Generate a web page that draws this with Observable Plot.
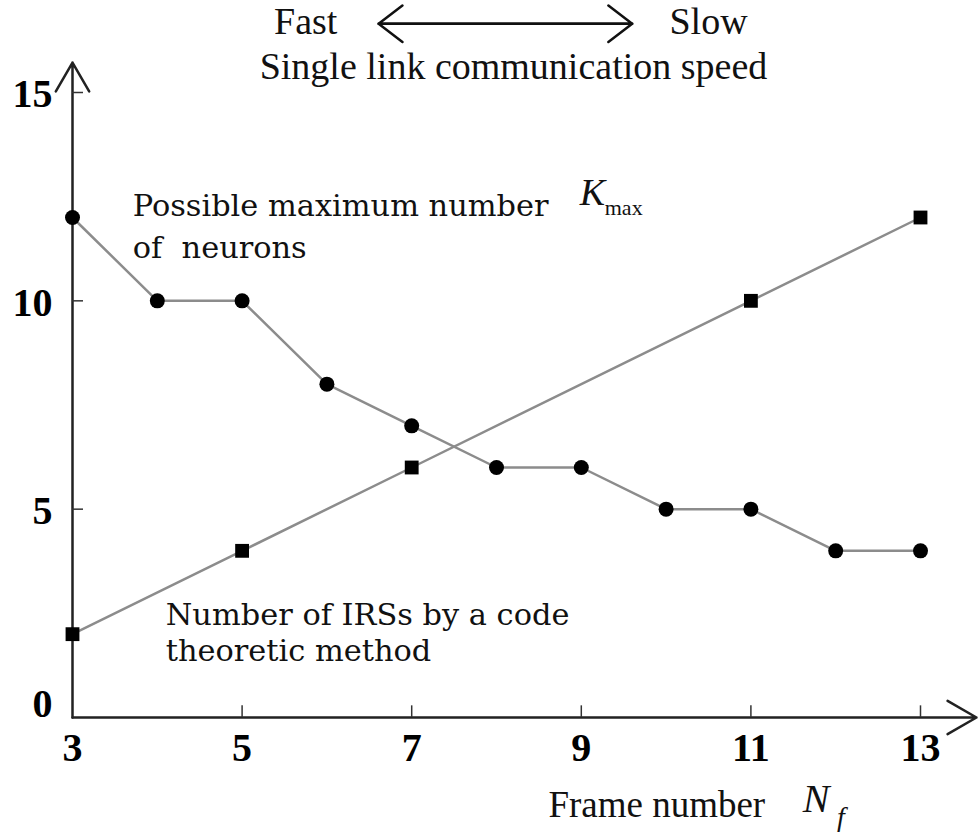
<!DOCTYPE html>
<html>
<head>
<meta charset="utf-8">
<script src="https://cdn.jsdelivr.net/npm/d3@7"></script>
<script src="https://cdn.jsdelivr.net/npm/@observablehq/plot@0.6"></script>
<style>
  body { margin: 0; background: #fff; }
  svg { display: block; }
</style>
</head>
<body>
<div id="chart"></div>
<script>
// Data
const frames = [3, 4, 5, 6, 7, 8, 9, 10, 11, 12, 13];
const maxNeurons = [12, 10, 10, 8, 7, 6, 6, 5, 5, 4, 4];
const irsFrames = [3, 5, 7, 11, 13];
const irsCounts = [2, 4, 6, 10, 12];
const xTicks = [3, 5, 7, 9, 11, 13];
const yTicks = [0, 5, 10, 15];

// annotation texts (data-space anchors)
const seriesLabels = [
  {x: 3.71, y: 12.27, text: "Possible maximum number"},
  {x: 3.71, y: 11.27, text: "of  neurons"},
  {x: 4.10, y: 2.45, text: "Number of IRSs by a code"},
  {x: 4.10, y: 1.60, text: "theoretic method"}
];
const headerLabels = [
  {x: 5.75, y: 16.70, text: "Fast"},
  {x: 10.50, y: 16.70, text: "Slow"},
  {x: 8.20, y: 15.61, text: "Single link communication speed"}
];

const neurons = frames.map((f, i) => ({x: f, y: maxNeurons[i]}));
const irs = irsFrames.map((f, i) => ({x: f, y: irsCounts[i]}));

const serif = "'Liberation Serif', 'Times New Roman', serif";
const wide = "'DejaVu Serif', serif";

const chart = Plot.plot({
  width: 979,
  height: 832,
  marginLeft: 72,
  marginRight: 59,
  marginTop: 92,
  marginBottom: 115,
  x: {type: "linear", domain: [3, 13], axis: null},
  y: {type: "linear", domain: [0, 15], axis: null},
  style: {fontFamily: serif, background: "#fff", overflow: "visible"},
  marks: [
    // axes with arrow heads
    Plot.arrow([{x1: 3, y1: 0, x2: 13.66, y2: 0}], {x1: "x1", y1: "y1", x2: "x2", y2: "y2", stroke: "#222", strokeWidth: 2.5, headLength: 20, headAngle: 60}),
    Plot.arrow([{x1: 3, y1: 0, x2: 3, y2: 15.72}], {x1: "x1", y1: "y1", x2: "x2", y2: "y2", stroke: "#222", strokeWidth: 2.5, headLength: 20, headAngle: 60}),
    // inward ticks
    Plot.ruleX(xTicks.filter(d => d !== 3), {x: d => d, y1: 0, y2: 0.28, stroke: "#333", strokeWidth: 1.5}),
    Plot.ruleY(yTicks.filter(d => d !== 0), {y: d => d, x1: 3, x2: 3.13, stroke: "#333", strokeWidth: 1.5}),
    // tick labels
    Plot.text(xTicks, {x: d => d, y: 0, dy: 31, text: d => String(d), fontSize: 40, fontWeight: "bold", fontFamily: serif, fill: "#000"}),
    Plot.text(yTicks.filter(d => d !== 0), {x: 3, y: d => d, dx: -20, dy: 2, textAnchor: "end", text: d => String(d), fontSize: 40, fontWeight: "bold", fontFamily: serif, fill: "#000"}),
    Plot.text(yTicks.filter(d => d === 0), {x: 3, y: d => d, dx: -20, dy: -13, textAnchor: "end", text: d => String(d), fontSize: 40, fontWeight: "bold", fontFamily: serif, fill: "#000"}),
    // series lines
    Plot.line(neurons, {x: "x", y: "y", stroke: "#8c8c8c", strokeWidth: 2.5}),
    Plot.line(irs, {x: "x", y: "y", stroke: "#8c8c8c", strokeWidth: 2.5}),
    Plot.dot(neurons, {x: "x", y: "y", r: 7.5, fill: "#000", stroke: "none"}),
    Plot.dot(irs, {x: "x", y: "y", r: 7.8, symbol: "square", fill: "#000", stroke: "none"}),
    // series labels
    Plot.text(seriesLabels, {x: "x", y: "y", text: "text", textAnchor: "start", fontSize: 30.4, fontFamily: wide, fill: "#111"}),
    Plot.text([{x: 9.13, y: 12.6}], {x: "x", y: "y", text: () => "K", fontSize: 38, fontStyle: "italic", fontFamily: serif, fill: "#111"}),
    Plot.text([{x: 9.50, y: 12.22}], {x: "x", y: "y", text: () => "max", fontSize: 22, fontFamily: serif, fill: "#111"}),
    // header
    Plot.text(headerLabels, {x: "x", y: "y", text: "text", fontSize: 38, fontFamily: serif, fill: "#111"}),
    Plot.arrow([{x1: 6.61, x2: 9.60, y: 16.65}], {x1: "x1", x2: "x2", y1: "y", y2: "y", stroke: "#111", strokeWidth: 2.5, headLength: 18, headAngle: 75}),
    Plot.arrow([{x1: 9.60, x2: 6.61, y: 16.65}], {x1: "x1", x2: "x2", y1: "y", y2: "y", stroke: "#111", strokeWidth: 2.5, headLength: 18, headAngle: 75}),
    // x label
    Plot.text([{x: 9.89, y: -2.11}], {x: "x", y: "y", text: () => "Frame number", fontSize: 37, fontFamily: serif, fill: "#111"}),
    Plot.text([{x: 11.77, y: -1.97}], {x: "x", y: "y", text: () => "N", fontSize: 40, fontStyle: "italic", fontFamily: serif, fill: "#111"}),
    Plot.text([{x: 12.06, y: -2.38}], {x: "x", y: "y", text: () => "f", fontSize: 28, fontStyle: "italic", fontFamily: serif, fill: "#111"})
  ]
});
document.getElementById("chart").appendChild(chart);
</script>
</body>
</html>
